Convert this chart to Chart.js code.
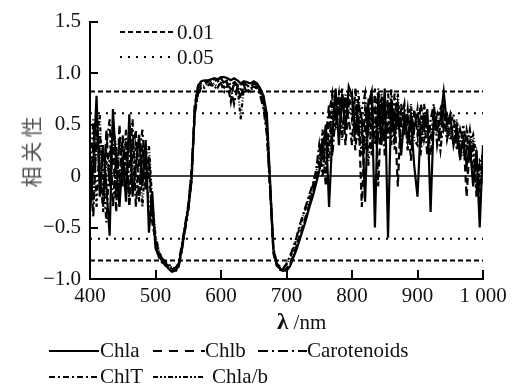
<!DOCTYPE html>
<html>
<head>
<meta charset="utf-8">
<script src="https://cdn.jsdelivr.net/npm/chart.js@4.4.0/dist/chart.umd.min.js"></script>
<style>
  body { margin: 0; background: #fff; }
  #wrap { position: relative; width: 514px; height: 387px; font-family: "Liberation Serif", serif; color: #111; }
  #chart { position: absolute; left: 0; top: 0; }
  .t { position: absolute; font-size: 21px; line-height: 1; white-space: nowrap; }
  .s { position: absolute; }
  #ytitle { position: absolute; left: 30px; top: 150px; transform: translate(-50%, -50%) rotate(-90deg);
            font-family: "Noto Sans CJK SC", sans-serif; font-size: 21px; letter-spacing: 4px; color: #555; white-space: nowrap; }
</style>
</head>
<body>
<div id="wrap">
  <canvas id="chart" width="514" height="387"></canvas>
  <div id="ytitle">相关性</div>

  <!-- significance legend inside the plot -->
  <svg class="s" style="left:120px;top:29px" width="54" height="6"><line x1="0" y1="3" x2="54" y2="3" stroke="#000" stroke-width="2.2" stroke-dasharray="5 3"/></svg>
  <div class="t" style="left:177px;top:22px">0.01</div>
  <svg class="s" style="left:120px;top:54px" width="50" height="6"><line x1="0" y1="3" x2="50" y2="3" stroke="#000" stroke-width="2.2" stroke-dasharray="2 6"/></svg>
  <div class="t" style="left:177px;top:47px">0.05</div>

  <div class="t" style="left:277px;top:310px"><b style="font-size:23px">λ</b> /nm</div>

  <!-- series legend -->
  <svg class="s" style="left:49px;top:348px" width="50" height="6"><line x1="0" y1="3" x2="50" y2="3" stroke="#000" stroke-width="2.2"/></svg>
  <div class="t" style="left:100px;top:340px">Chla</div>
  <svg class="s" style="left:153px;top:348px" width="52" height="6"><line x1="0" y1="3" x2="52" y2="3" stroke="#000" stroke-width="2.2" stroke-dasharray="9 7"/></svg>
  <div class="t" style="left:205px;top:340px">Chlb</div>
  <svg class="s" style="left:258px;top:348px" width="49" height="6"><line x1="0" y1="3" x2="49" y2="3" stroke="#000" stroke-width="2.2" stroke-dasharray="10 4 2 4"/></svg>
  <div class="t" style="left:307px;top:340px">Carotenoids</div>
  <svg class="s" style="left:49px;top:374px" width="50" height="6"><line x1="0" y1="3" x2="50" y2="3" stroke="#000" stroke-width="2.2" stroke-dasharray="6 3 2 3"/></svg>
  <div class="t" style="left:100px;top:366px">ChlT</div>
  <svg class="s" style="left:153px;top:374px" width="52" height="6"><line x1="0" y1="3" x2="52" y2="3" stroke="#000" stroke-width="2.2" stroke-dasharray="5 2 2 2 2 2"/></svg>
  <div class="t" style="left:212px;top:366px">Chla/b</div>
</div>

<script>
// wavelength (nm)
const wavelengths = [
  400, 405, 410, 415, 420, 425, 430, 435, 440, 445,
  450, 455, 460, 465, 470, 475, 480, 485, 490, 495,
  500, 505, 510, 515, 520, 525, 530, 535, 540, 545,
  550, 555, 560, 565, 570, 575, 580, 585, 590, 595,
  600, 605, 610, 615, 620, 625, 630, 635, 640, 645,
  650, 655, 660, 665, 670, 675, 680, 685, 690, 695,
  700, 705, 710, 715, 720, 725, 730, 735, 740, 745,
  750, 755, 760, 765, 770, 775, 780, 785, 790, 795,
  800, 805, 810, 815, 820, 825, 830, 835, 840, 845,
  850, 855, 860, 865, 870, 875, 880, 885, 890, 895,
  900, 905, 910, 915, 920, 925, 930, 935, 940, 945,
  950, 955, 960, 965, 970, 975, 980, 985, 990, 995,
  1000
];

const chla = [
  -0.35, 0.1, 0.78, -0.2, 0.3, -0.1, -0.58, 0.65, 0.1, -0.3,
  0.2, -0.25, 0.6, -0.2, 0.1, 0.4, -0.1, 0.35, -0.55, -0.15,
  -0.7, -0.78, -0.82, -0.86, -0.9, -0.93, -0.92, -0.88, -0.7, -0.5,
  -0.32, -0.05, 0.65, 0.88, 0.92, 0.93, 0.93, 0.94, 0.95, 0.94,
  0.96, 0.96, 0.95, 0.93, 0.95, 0.93, 0.9, 0.92, 0.91, 0.9,
  0.92, 0.9, 0.85, 0.78, 0.6, -0.05, -0.72, -0.85, -0.9, -0.91,
  -0.92, -0.88, -0.8, -0.72, -0.62, -0.52, -0.42, -0.3, -0.2, -0.08,
  0.05, 0.2, 0.5, -0.3, 0.4, 0.85, 0.3, 0.8, 0.45, 0.87,
  0.78, 0.4, 0.7, 0.55, -0.25, 0.7, 0.82, -0.5, 0.8, 0.3,
  0.85, -0.6, 0.75, 0.4, 0.65, 0.2, 0.6, 0.35, 0.55, 0.1,
  -0.2, 0.5, 0.45, 0.65, -0.35, 0.6, 0.45, 0.55, 0.82, 0.5,
  0.6, 0.3, 0.45, 0.2, 0.35, 0.1, 0.3, -0.1, 0.25, -0.5,
  0.3
];

const chlb = [
  -0.3, 0.3, 0.6, 0.0, -0.3, 0.45, -0.1, 0.3, -0.35, 0.5,
  -0.1, 0.35, -0.3, 0.25, 0.45, -0.25, 0.3, -0.15, 0.1, -0.45,
  -0.62, -0.76, -0.84, -0.86, -0.88, -0.9, -0.91, -0.87, -0.72, -0.52,
  -0.3, 0.0, 0.7, 0.86, 0.88, 0.9, 0.91, 0.93, 0.92, 0.94,
  0.95, 0.93, 0.9, 0.72, 0.92, 0.88, 0.75, 0.9, 0.88, 0.86,
  0.9, 0.88, 0.82, 0.72, 0.5, -0.1, -0.75, -0.87, -0.9, -0.92,
  -0.9, -0.86, -0.78, -0.68, -0.58, -0.48, -0.38, -0.27, -0.15, -0.02,
  0.1, 0.35, -0.1, 0.6, 0.8, 0.5, 0.6, 0.85, 0.3, 0.7,
  0.8, 0.25, 0.6, -0.3, 0.5, 0.75, 0.2, 0.85, -0.1, 0.7,
  0.35, 0.8, 0.5, 0.6, -0.1, 0.7, 0.45, 0.6, 0.15, 0.65,
  0.4, 0.7, 0.5, 0.55, 0.2, 0.5, 0.6, 0.35, 0.7, 0.4,
  0.55, 0.3, 0.5, 0.15, 0.4, -0.2, 0.35, 0.0, 0.2, -0.3,
  0.2
];

const carotenoids = [
  0.2, -0.4, 0.45, 0.1, -0.2, 0.3, 0.55, -0.3, 0.2, 0.0,
  0.4, -0.15, 0.1, 0.55, -0.3, 0.2, 0.45, 0.0, 0.2, -0.35,
  -0.6, -0.74, -0.8, -0.83, -0.86, -0.88, -0.9, -0.85, -0.68, -0.48,
  -0.28, 0.05, 0.6, 0.8, 0.84, 0.86, 0.88, 0.9, 0.85, 0.88,
  0.9, 0.82, 0.88, 0.85, 0.7, 0.86, 0.84, 0.88, 0.8, 0.85,
  0.87, 0.85, 0.78, 0.65, 0.4, -0.15, -0.7, -0.84, -0.88, -0.9,
  -0.85, -0.78, -0.7, -0.6, -0.48, -0.38, -0.28, -0.18, -0.08, 0.05,
  0.3, 0.0, 0.35, 0.7, 0.2, 0.6, 0.8, 0.4, 0.75, 0.55,
  0.3, 0.85, 0.5, 0.2, 0.65, 0.45, 0.8, 0.3, 0.6, 0.75,
  0.2, 0.7, 0.3, 0.8, 0.45, 0.55, 0.7, 0.25, 0.6, 0.45,
  0.65, 0.3, 0.6, 0.2, 0.55, 0.7, 0.3, 0.5, 0.6, 0.35,
  0.5, 0.6, 0.25, 0.45, 0.3, 0.4, 0.15, 0.35, -0.2, 0.1,
  0.0
];

const chlT = [
  -0.1, 0.55, -0.3, 0.4, 0.05, -0.45, 0.2, 0.5, -0.2, 0.35,
  0.05, 0.45, -0.25, 0.35, 0.0, -0.2, 0.25, 0.1, -0.3, -0.4,
  -0.66, -0.79, -0.83, -0.87, -0.89, -0.92, -0.93, -0.89, -0.74, -0.53,
  -0.33, -0.05, 0.66, 0.87, 0.9, 0.92, 0.92, 0.93, 0.94, 0.92,
  0.95, 0.9, 0.93, 0.88, 0.91, 0.82, 0.89, 0.9, 0.87, 0.88,
  0.91, 0.89, 0.84, 0.75, 0.55, -0.08, -0.73, -0.86, -0.91, -0.92,
  -0.91, -0.87, -0.79, -0.7, -0.6, -0.5, -0.4, -0.28, -0.17, -0.05,
  0.08, 0.45, 0.1, 0.3, 0.75, 0.6, 0.4, 0.7, 0.6, 0.8,
  0.55, 0.7, 0.35, 0.65, 0.8, 0.1, 0.6, 0.45, 0.85, 0.5,
  0.6, 0.35, 0.85, 0.25, 0.7, 0.5, 0.4, 0.65, 0.3, 0.5,
  0.55, 0.2, 0.7, 0.45, 0.35, 0.65, 0.5, 0.25, 0.55, 0.6,
  0.4, 0.5, 0.35, 0.3, 0.5, 0.25, 0.45, 0.2, -0.1, 0.15,
  0.1
];

const chlaB = [
  0.05, -0.25, 0.35, 0.6, -0.35, 0.15, 0.0, 0.45, 0.3, -0.15,
  0.3, 0.1, 0.45, -0.1, 0.3, 0.15, -0.3, 0.2, 0.3, -0.25,
  -0.58, -0.72, -0.81, -0.85, -0.87, -0.89, -0.9, -0.86, -0.7, -0.5,
  -0.3, 0.02, 0.62, 0.82, 0.86, 0.88, 0.9, 0.88, 0.9, 0.86,
  0.92, 0.86, 0.9, 0.84, 0.88, 0.9, 0.55, 0.86, 0.84, 0.82,
  0.88, 0.86, 0.8, 0.7, 0.45, -0.12, -0.72, -0.85, -0.89, -0.9,
  -0.86, -0.8, -0.72, -0.62, -0.5, -0.4, -0.3, -0.2, -0.1, 0.02,
  0.2, 0.3, 0.45, 0.15, 0.65, 0.45, 0.7, 0.35, 0.8, 0.6,
  0.65, 0.5, 0.8, 0.4, 0.3, 0.6, 0.55, 0.65, 0.4, 0.8,
  0.45, 0.5, 0.65, 0.35, 0.8, 0.3, 0.55, 0.5, 0.7, 0.35,
  0.3, 0.6, 0.35, 0.5, 0.45, 0.4, 0.55, 0.65, 0.45, 0.55,
  0.35, 0.45, 0.55, 0.25, 0.2, 0.45, 0.3, 0.4, 0.2, -0.05,
  0.25
];

// significance thresholds (0.01 and 0.05 levels) and the zero line
const level001 = [0.82, -0.82];
const level005 = [0.61, -0.61];
const zeroLevel = [0];
const lineSpan = [400, 1000];

const yTicks = [-1, -0.5, 0, 0.5, 1, 1.5];
const yTickLabels = ["−1.0", "−0.5", "0", "0.5", "1.0", "1.5"];
const xTicks = [400, 500, 600, 700, 800, 900, 1000];
const xTickLabels = ["400", "500", "600", "700", "800", "900", "1 000"];

const toPoints = vals => vals.map((v, i) => ({x: wavelengths[i], y: v}));
const hLine = v => lineSpan.map(x => ({x, y: v}));

function curve(label, values, dash) {
    return {label, data: toPoints(values), borderColor: "#000", borderWidth: 2.2,
            borderDash: dash, pointRadius: 0, fill: false, tension: 0};
}
function guide(value, dash, width) {
    return {data: hLine(value), borderColor: "#000", borderWidth: width,
            borderDash: dash, pointRadius: 0, fill: false};
}

const datasets = [
    ...level001.map(v => guide(v, [5, 3], 2)),
    ...level005.map(v => guide(v, [2, 6], 2)),
    ...zeroLevel.map(v => guide(v, [], 1.5)),
    curve("Chla/b", chlaB, [4, 2, 1, 2, 1, 2]),
    curve("ChlT", chlT, [6, 3, 2, 3, 2, 3]),
    curve("Carotenoids", carotenoids, [8, 3, 2, 3]),
    curve("Chlb", chlb, [7, 4]),
    curve("Chla", chla, [])
];

// tick marks pointing into the plot
const inwardTicks = {
    id: "inwardTicks",
    afterDraw(chart) {
        const {ctx, chartArea, scales: {x, y}} = chart;
        ctx.save();
        ctx.strokeStyle = "#000";
        ctx.lineWidth = 2;
        ctx.beginPath();
        yTicks.forEach(v => {
            const py = Math.round(y.getPixelForValue(v));
            ctx.moveTo(chartArea.left, py);
            ctx.lineTo(chartArea.left + 8, py);
        });
        xTicks.slice(1).forEach(v => {
            const px = Math.round(x.getPixelForValue(v));
            ctx.moveTo(px, chartArea.bottom);
            ctx.lineTo(px, chartArea.bottom - 9);
        });
        ctx.stroke();
        ctx.restore();
    }
};

const font = {family: "'Liberation Serif', serif", size: 21};

new Chart(document.getElementById("chart").getContext("2d"), {
    type: "line",
    data: {datasets},
    options: {
        responsive: false,
        animation: false,
        devicePixelRatio: 1,
        layout: {padding: {left: 0, top: 16, right: 31, bottom: 0}},
        plugins: {legend: {display: false}, tooltip: {enabled: false}},
        scales: {
            x: {
                type: "linear", min: 400, max: 1000,
                afterBuildTicks: s => { s.ticks = xTicks.map(v => ({value: v})); },
                afterFit: s => { s.height = 108; },
                ticks: {callback: (v, i) => xTickLabels[i], color: "#111", font, padding: 5, maxRotation: 0, autoSkip: false},
                grid: {display: false, drawTicks: false},
                border: {color: "#000", width: 2}
            },
            y: {
                min: -1, max: 1.5,
                afterBuildTicks: s => { s.ticks = yTicks.map(v => ({value: v})); },
                afterFit: s => { s.width = 90; },
                ticks: {callback: (v, i) => yTickLabels[i], color: "#111", font, padding: 9, autoSkip: false},
                grid: {display: false, drawTicks: false},
                border: {color: "#000", width: 2}
            }
        }
    },
    plugins: [inwardTicks]
});
</script>
</body>
</html>
